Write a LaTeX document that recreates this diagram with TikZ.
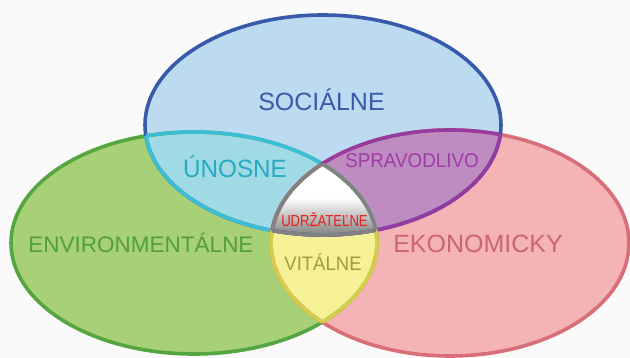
\documentclass[tikz,border=0pt]{standalone}
\usepackage{fontspec}
\setmainfont{Liberation Sans}
\definecolor{bgc}{RGB}{250,250,250}
\definecolor{blueFill}{RGB}{189,219,240}
\definecolor{blueLine}{RGB}{55,90,170}
\definecolor{greenFill}{RGB}{168,208,118}
\definecolor{greenLine}{RGB}{85,165,65}
\definecolor{pinkFill}{RGB}{244,180,182}
\definecolor{pinkLine}{RGB}{215,110,120}
\definecolor{cyanFill}{RGB}{160,218,228}
\definecolor{cyanLine}{RGB}{60,190,215}
\definecolor{purpleFill}{RGB}{190,140,192}
\definecolor{purpleLine}{RGB}{150,60,160}
\definecolor{yellowFill}{RGB}{246,240,150}
\definecolor{yellowLine}{RGB}{215,205,75}
\definecolor{greyLine}{RGB}{130,130,130}
\definecolor{greyShade}{RGB}{120,120,120}
\definecolor{tSoc}{RGB}{55,90,170}
\definecolor{tUno}{RGB}{40,170,195}
\definecolor{tSpr}{RGB}{160,60,165}
\definecolor{tEnv}{RGB}{80,160,60}
\definecolor{tEko}{RGB}{205,100,110}
\definecolor{tVit}{RGB}{165,155,60}
\definecolor{tUdr}{RGB}{235,30,30}
\def\blueE{(323,125) ellipse [x radius=178pt, y radius=110pt]}
\def\greenE{(194,243) ellipse [x radius=183pt, y radius=111pt]}
\def\pinkE{(450,243) ellipse [x radius=179pt, y radius=113pt]}
\begin{document}
\begin{tikzpicture}[x=1pt,y=-1pt,
  bord/.style={line width=3.6pt},
  lbl/.style={inner sep=0pt, anchor=base, font=\fontsize{#1}{#1}\selectfont}]
\useasboundingbox (0,0) rectangle (630,358);
\fill[bgc] (0,0) rectangle (630,358);
% base fills
\fill[greenFill] \greenE;
\fill[pinkFill] \pinkE;
\fill[blueFill] \blueE;
% pair intersections
\begin{scope}\clip \blueE; \fill[cyanFill] \greenE; \fill[purpleFill] \pinkE; \end{scope}
\begin{scope}\clip \greenE; \fill[yellowFill] \pinkE; \end{scope}
% triple intersection
\begin{scope}\clip \blueE; \clip \greenE; \clip \pinkE;
  \fill[white] (265,155) rectangle (385,240);
  \shade[top color=white, bottom color=greyShade] (265,198) rectangle (385,238);
\end{scope}
% outer borders
\draw[bord, greenLine] \greenE;
\draw[bord, pinkLine] \pinkE;
\draw[bord, blueLine] \blueE;
% inner borders
\begin{scope}\clip \greenE; \draw[bord, cyanLine] \blueE; \draw[bord, yellowLine] \pinkE; \end{scope}
\begin{scope}\clip \pinkE; \draw[bord, purpleLine] \blueE; \draw[bord, yellowLine] \greenE; \end{scope}
\begin{scope}\clip \blueE; \draw[bord, cyanLine] \greenE; \draw[bord, purpleLine] \pinkE; \end{scope}
\begin{scope}\clip \greenE; \clip \pinkE; \draw[bord, greyLine] \blueE; \end{scope}
\begin{scope}\clip \blueE; \clip \pinkE; \draw[bord, greyLine] \greenE; \end{scope}
\begin{scope}\clip \blueE; \clip \greenE; \draw[bord, greyLine] \pinkE; \end{scope}
% labels
\node[lbl=25, text=tSoc] (soc) at (321.5,111) {SOCIÁLNE};
\node[lbl=25, text=tUno, xscale=0.97] (uno) at (235,178) {ÚNOSNE};
\node[lbl=20, text=tSpr, xscale=0.94] (spr) at (412,168) {SPRAVODLIVO};
\node[lbl=16, text=tUdr, xscale=0.82] (udr) at (324.5,227) {UDRŽATEĽNE};
\node[lbl=22.5, text=tEnv] (env) at (141,253) {ENVIRONMENTÁLNE};
\node[lbl=25, text=tEko] (eko) at (478,253) {EKONOMICKY};
\node[lbl=19.5, text=tVit, xscale=0.95] (vit) at (323,271) {VITÁLNE};
\end{tikzpicture}
\end{document}
